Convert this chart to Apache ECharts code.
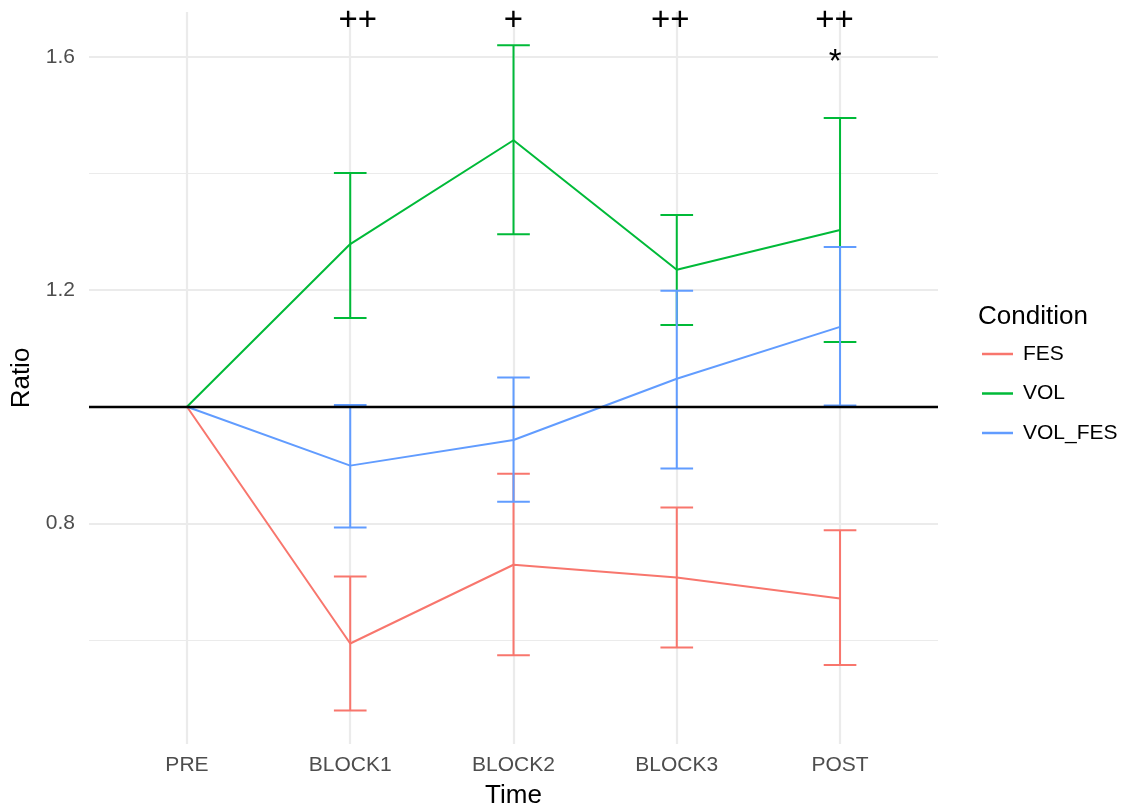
<!DOCTYPE html>
<html>
<head>
<meta charset="utf-8">
<script src="https://cdn.jsdelivr.net/npm/echarts@6/dist/echarts.min.js"></script>
<style>
  html, body { margin: 0; padding: 0; background: #ffffff; }
  #chart { width: 1128px; height: 810px; }
</style>
</head>
<body>
<div id="chart"></div>
<script>
// Time points on the x axis
const timePoints = ['PRE', 'BLOCK1', 'BLOCK2', 'BLOCK3', 'POST'];
const conditions = ['FES', 'VOL', 'VOL_FES'];

// Mean ratio per time point, with lower / upper error bar limits
const fesMean  = [1.000, 0.594, 0.729, 0.707, 0.671];
const fesLower = [null,  0.479, 0.574, 0.587, 0.557];
const fesUpper = [null,  0.709, 0.885, 0.827, 0.788];

const volMean  = [1.000, 1.279, 1.457, 1.235, 1.303];
const volLower = [null,  1.152, 1.296, 1.140, 1.111];
const volUpper = [null,  1.401, 1.620, 1.329, 1.495];

const volFesMean  = [1.000, 0.899, 0.943, 1.048, 1.137];
const volFesLower = [null,  0.793, 0.837, 0.894, 1.002];
const volFesUpper = [null,  1.003, 1.050, 1.199, 1.274];

// Significance markers
const markX    = [1.046, 2.0, 2.96, 3.966, 3.97];
const markY    = [1.661, 1.661, 1.661, 1.661, 1.589];
const markText = ['++', '+', '++', '++', '*'];

// Axis tick values and reference line
const yTicks = [0.8, 1.2, 1.6];
const yMinorGrid = [0.6, 1.0, 1.4];
const referenceLevel = 1.0;

const colors = { FES: '#F8766D', VOL: '#00BA38', VOL_FES: '#619CFF' };
const FONT = '"Liberation Sans", Arial, Helvetica, sans-serif';
const CAP_HALF = 0.1;

function lineData(means) {
  return means.map((v, i) => [i, v]);
}
function barData(lower, upper) {
  const out = [];
  lower.forEach((lo, i) => { if (lo != null) out.push([i, lo, upper[i]]); });
  return out;
}

function renderErrorBar(params, api) {
  const x = api.value(0), lo = api.value(1), hi = api.value(2);
  const top = api.coord([x, hi]);
  const bot = api.coord([x, lo]);
  const left = api.coord([x - CAP_HALF, hi])[0];
  const right = api.coord([x + CAP_HALF, hi])[0];
  const style = { stroke: api.visual('color'), lineWidth: 2, fill: null };
  return {
    type: 'group',
    children: [
      { type: 'line', shape: { x1: top[0], y1: top[1], x2: bot[0], y2: bot[1] }, style },
      { type: 'line', shape: { x1: left, y1: top[1], x2: right, y2: top[1] }, style },
      { type: 'line', shape: { x1: left, y1: bot[1], x2: right, y2: bot[1] }, style }
    ]
  };
}

function renderMark(params, api) {
  const p = api.coord([api.value(0), api.value(1)]);
  return {
    type: 'text',
    x: p[0], y: p[1],
    style: {
      text: markText[params.dataIndex],
      fontSize: 33, fontFamily: FONT, fill: '#000000',
      align: 'center', verticalAlign: 'middle'
    }
  };
}

const groups = [
  { name: 'FES', mean: fesMean, lower: fesLower, upper: fesUpper },
  { name: 'VOL', mean: volMean, lower: volLower, upper: volUpper },
  { name: 'VOL_FES', mean: volFesMean, lower: volFesLower, upper: volFesUpper }
];

// background grid, drawn beneath everything
const gridLineSeries = {
  type: 'line', name: 'grid', data: [], silent: true, z: 0,
  markLine: {
    z: 0, silent: true, symbol: 'none', label: { show: false },
    emphasis: { disabled: true },
    animation: false,
    data: [
      ...yMinorGrid.map(v => ({ yAxis: v, lineStyle: { color: '#EBEBEB', width: 1.1, type: 'solid' } })),
      ...yTicks.map(v => ({ yAxis: v, lineStyle: { color: '#EBEBEB', width: 2.2, type: 'solid' } })),
      ...timePoints.map((t, i) => ({ xAxis: i, lineStyle: { color: '#EBEBEB', width: 2.2, type: 'solid' } }))
    ]
  }
};

const lineSeries = groups.map(g => ({
  type: 'line', name: g.name, data: lineData(g.mean),
  color: colors[g.name], showSymbol: false, symbol: 'none',
  lineStyle: { width: 2, color: colors[g.name] },
  z: 2, animation: false
}));

const errorSeries = groups.map(g => ({
  type: 'custom', name: g.name, data: barData(g.lower, g.upper),
  color: colors[g.name], renderItem: renderErrorBar,
  encode: { x: 0, y: [1, 2] }, z: 3, animation: false
}));

const refSeries = {
  type: 'line', name: 'reference', data: [], silent: true, z: 8,
  markLine: {
    z: 8, silent: true, symbol: 'none', label: { show: false }, animation: false,
    emphasis: { disabled: true },
    data: [{ yAxis: referenceLevel, lineStyle: { color: '#000000', width: 2.4, type: 'solid' } }]
  }
};

const markSeries = {
  type: 'custom', name: 'marks', silent: true, z: 9,
  data: markX.map((x, i) => [x, markY[i]]),
  renderItem: renderMark, animation: false
};

const chart = echarts.init(document.getElementById('chart'), null, { renderer: 'canvas' });
chart.setOption({
  backgroundColor: '#ffffff',
  animation: false,
  textStyle: { fontFamily: FONT },
  grid: { left: 89, right: 190, top: 12, bottom: 66, outerBoundsMode: 'none' },
  xAxis: {
    type: 'value', min: -0.6, max: 4.6,
    name: 'Time', nameLocation: 'middle', nameGap: 39,
    nameTextStyle: { fontSize: 26, color: '#000000', fontFamily: FONT },
    axisLine: { show: false }, axisTick: { show: false }, splitLine: { show: false },
    axisLabel: {
      customValues: [0, 1, 2, 3, 4],
      formatter: v => timePoints[Math.round(v)],
      fontSize: 21, color: '#4D4D4D', margin: 11, fontFamily: FONT
    }
  },
  yAxis: {
    type: 'value', min: 0.4216, max: 1.677,
    name: 'Ratio', nameLocation: 'middle', nameGap: 52, nameRotate: 90,
    nameTextStyle: { fontSize: 26, color: '#000000', fontFamily: FONT },
    axisLine: { show: false }, axisTick: { show: false }, splitLine: { show: false },
    axisLabel: {
      customValues: yTicks,
      formatter: v => v.toFixed(1),
      fontSize: 21, color: '#4D4D4D', margin: 14, fontFamily: FONT
    }
  },
  legend: {
    data: conditions, orient: 'vertical', left: 982, top: 342, padding: 0,
    icon: 'rect', itemWidth: 31, itemHeight: 2.5, itemGap: 15.5,
    selectedMode: false,
    textStyle: { fontSize: 21, color: '#000000', lineHeight: 24, fontFamily: FONT, padding: [0, 0, 0, 5] }
  },
  graphic: [{
    type: 'text', left: 978, top: 304,
    style: { text: 'Condition', fontSize: 26, fill: '#000000', fontFamily: FONT }
  }],
  series: [gridLineSeries, ...lineSeries, ...errorSeries, refSeries, markSeries]
});
</script>
</body>
</html>
